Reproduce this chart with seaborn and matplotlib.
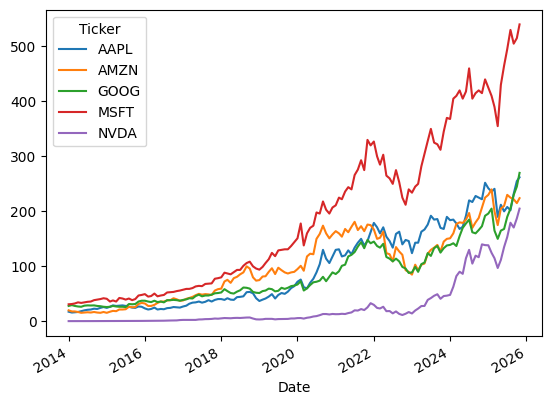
import numpy as np
import pandas as pd
import matplotlib.pyplot as plt
import seaborn as sns

# monthly closing prices (adjusted), Jan 2014 .. Oct 2025 plus last trading day
dates = list(pd.date_range('2014-01-01', '2025-10-01', freq='MS')) + [pd.Timestamp('2025-10-27')]

aapl = [17.5, 16.0, 16.5, 17.0, 18.5, 20.0, 21.0, 21.5, 23.0, 22.5, 24.5, 26.0,
        24.5, 26.5, 29.0, 28.0, 28.5, 29.0, 28.0, 26.5, 25.0, 24.5, 27.0, 26.5,
        23.5, 21.5, 22.5, 25.0, 21.5, 22.5, 22.0, 24.0, 24.5, 26.0, 25.5, 25.0,
        27.0, 28.5, 32.0, 34.0, 34.5, 36.0, 34.0, 35.5, 38.5, 36.0, 39.0, 40.5,
        40.5, 39.0, 42.0, 39.5, 39.0, 44.0, 44.5, 45.5, 53.0, 53.5, 51.0, 42.0,
        37.0, 39.5, 41.5, 45.0, 49.5, 41.5, 48.0, 51.5, 50.0, 54.0, 60.5, 64.0,
        72.0, 76.0, 62.0, 60.0, 70.0, 77.5, 89.0, 104.0, 130.0, 114.0, 106.0, 118.0,
        130.0, 131.0, 118.0, 120.0, 129.0, 122.0, 134.0, 143.0, 150.0, 138.0, 146.0, 162.0,
        179.0, 171.0, 160.0, 171.0, 154.0, 146.0, 134.0, 159.0, 163.0, 140.0, 148.0, 146.0,
        124.0, 143.0, 143.0, 163.0, 167.0, 176.0, 192.0, 185.0, 186.0, 170.0, 168.0, 190.0,
        184.0, 185.0, 178.0, 168.0, 172.0, 192.0, 220.0, 217.0, 228.0, 225.0, 222.0, 252.0,
        242.0, 236.0, 241.0, 190.0, 212.0, 200.0, 208.0, 202.0, 232.0, 255.0, 262.0]

amzn = [20.0, 18.0, 18.0, 17.0, 15.5, 16.0, 16.5, 16.0, 17.0, 16.0, 15.5, 17.0,
        15.5, 17.5, 19.0, 18.5, 21.5, 21.5, 22.0, 26.5, 25.5, 26.0, 31.5, 33.5,
        32.5, 28.0, 28.0, 30.0, 33.5, 36.0, 36.0, 38.0, 38.5, 42.0, 40.0, 37.5,
        38.0, 41.0, 42.5, 44.5, 47.5, 50.0, 48.5, 49.5, 49.0, 48.0, 56.0, 58.5,
        59.5, 72.5, 75.5, 70.0, 78.5, 81.0, 85.5, 89.0, 100.0, 96.0, 80.0, 74.0,
        75.0, 81.5, 82.0, 90.0, 96.5, 86.0, 97.5, 93.0, 89.0, 87.0, 89.0, 90.0,
        95.0, 101.0, 92.0, 118.0, 123.0, 122.0, 150.0, 159.0, 174.0, 160.0, 151.0, 158.0,
        164.0, 160.0, 154.0, 168.0, 162.0, 172.0, 181.0, 166.0, 173.0, 164.0, 176.0, 175.0,
        167.0, 150.0, 152.0, 163.0, 124.0, 122.0, 109.0, 135.0, 127.0, 121.0, 93.0, 90.0,
        85.0, 103.0, 93.0, 103.0, 105.0, 123.0, 130.0, 134.0, 139.0, 127.0, 145.0, 150.0,
        151.0, 160.0, 177.0, 180.0, 179.0, 185.0, 197.0, 170.0, 180.0, 188.0, 207.0, 225.0,
        230.0, 240.0, 200.0, 175.0, 205.0, 210.0, 230.0, 225.0, 222.0, 215.0, 224.0]

goog = [28.0, 29.5, 28.0, 27.0, 26.5, 28.5, 29.0, 28.8, 29.0, 28.0, 27.5, 26.5,
        26.0, 26.5, 28.0, 27.0, 26.5, 26.5, 26.0, 31.5, 31.0, 31.5, 36.0, 37.5,
        37.5, 36.0, 35.0, 37.5, 35.0, 36.0, 34.5, 38.5, 38.5, 39.0, 38.5, 37.5,
        39.0, 40.0, 42.0, 41.5, 46.0, 48.5, 45.5, 47.0, 47.0, 48.5, 51.0, 51.5,
        52.5, 58.5, 55.0, 51.5, 50.5, 54.0, 56.5, 61.5, 61.0, 59.5, 53.5, 52.0,
        51.5, 55.0, 56.0, 59.5, 58.5, 54.5, 55.5, 61.0, 59.0, 61.0, 64.0, 65.0,
        67.0, 73.0, 56.0, 60.0, 66.0, 71.0, 72.0, 74.0, 81.0, 73.0, 81.0, 89.0,
        86.0, 91.0, 101.0, 103.0, 118.0, 121.0, 126.0, 136.0, 144.0, 133.0, 148.0, 142.0,
        145.0, 137.0, 134.0, 141.0, 117.0, 114.0, 109.0, 114.0, 109.0, 99.0, 96.0, 88.0,
        89.0, 99.0, 90.0, 104.0, 107.0, 124.0, 119.0, 133.0, 137.0, 125.0, 133.0, 138.0,
        139.0, 142.0, 137.0, 155.0, 170.0, 178.0, 185.0, 162.0, 160.0, 166.0, 173.0, 192.0,
        196.0, 205.0, 165.0, 150.0, 165.0, 168.0, 190.0, 205.0, 230.0, 245.0, 270.0]

msft = [31.0, 31.5, 32.5, 34.5, 33.5, 34.5, 35.5, 36.0, 38.5, 39.5, 40.5, 42.0,
        41.0, 36.0, 38.0, 36.0, 42.5, 41.5, 39.5, 41.5, 38.5, 40.5, 47.0, 48.0,
        49.5, 45.0, 46.0, 50.5, 45.5, 47.0, 48.0, 52.5, 53.0, 53.5, 55.0, 56.0,
        57.5, 59.0, 59.0, 60.5, 63.5, 64.5, 64.0, 68.0, 68.5, 69.0, 77.5, 78.5,
        80.0, 88.5, 87.0, 85.5, 89.5, 93.5, 93.5, 101.0, 106.0, 108.5, 100.0, 96.0,
        94.0, 99.0, 106.0, 113.0, 124.5, 118.5, 129.0, 130.0, 131.0, 131.0, 137.0, 144.0,
        151.0, 178.0, 138.0, 160.0, 170.0, 174.0, 198.0, 196.0, 218.0, 203.0, 196.0, 207.0,
        211.0, 225.0, 222.0, 236.0, 244.0, 240.0, 266.0, 276.0, 293.0, 275.0, 330.0, 320.0,
        327.0, 300.0, 285.0, 303.0, 265.0, 260.0, 250.0, 275.0, 253.0, 225.0, 212.0, 240.0,
        234.0, 245.0, 250.0, 282.0, 305.0, 328.0, 350.0, 325.0, 322.0, 312.0, 345.0, 370.0,
        368.0, 405.0, 410.0, 420.0, 405.0, 418.0, 460.0, 405.0, 415.0, 420.0, 415.0, 440.0,
        425.0, 410.0, 390.0, 355.0, 430.0, 465.0, 495.0, 530.0, 505.0, 515.0, 540.0]

nvda = [0.38, 0.36, 0.41, 0.43, 0.44, 0.45, 0.44, 0.44, 0.45, 0.44, 0.46, 0.48,
        0.48, 0.47, 0.50, 0.50, 0.53, 0.51, 0.48, 0.48, 0.55, 0.58, 0.71, 0.78,
        0.81, 0.71, 0.80, 0.87, 0.87, 1.14, 1.15, 1.40, 1.50, 1.66, 1.70, 2.32,
        2.60, 2.62, 2.74, 2.62, 2.60, 3.40, 3.52, 4.00, 4.10, 4.41, 5.10, 4.80,
        5.5, 6.0, 5.8, 5.6, 6.1, 6.3, 6.1, 6.5, 6.9, 7.0, 5.1, 3.6,
        3.4, 3.7, 4.5, 4.5, 4.5, 3.6, 4.1, 4.2, 4.2, 4.4, 5.2, 5.2,
        5.9, 6.0, 5.0, 6.5, 7.3, 8.8, 9.5, 11.2, 13.3, 13.3, 12.5, 13.4,
        13.0, 13.1, 13.7, 13.3, 15.0, 16.2, 20.0, 19.6, 22.3, 20.5, 25.4, 33.0,
        30.0, 24.4, 23.4, 26.5, 18.5, 18.7, 14.5, 18.0, 13.5, 11.5, 13.8, 16.9,
        14.3, 19.7, 23.2, 27.8, 28.0, 39.0, 42.3, 46.5, 49.3, 41.0, 46.0, 46.7,
        48.1, 63.0, 82.2, 90.2, 86.4, 114.9, 130.0, 105.0, 119.4, 116.6, 140.0, 138.6,
        138.3, 124.6, 114.8, 97.0, 111.6, 135.1, 153.3, 179.3, 170.6, 187.2, 205.0]

tickers = ['AAPL', 'AMZN', 'GOOG', 'MSFT', 'NVDA']
series = [aapl, amzn, goog, msft, nvda]

df = pd.concat([pd.DataFrame({'Date': dates, 'Ticker': t, 'Close': s})
                for t, s in zip(tickers, series)])

fig, ax = plt.subplots(figsize=(6.4, 4.8), dpi=100)
sns.lineplot(data=df, x='Date', y='Close', hue='Ticker', ax=ax)
ax.set_ylabel('')
ax.set_xlabel('Date')
sns.move_legend(ax, 'upper left', title='Ticker')
fig.autofmt_xdate()

plt.savefig('out.png', dpi=100, bbox_inches='tight')
